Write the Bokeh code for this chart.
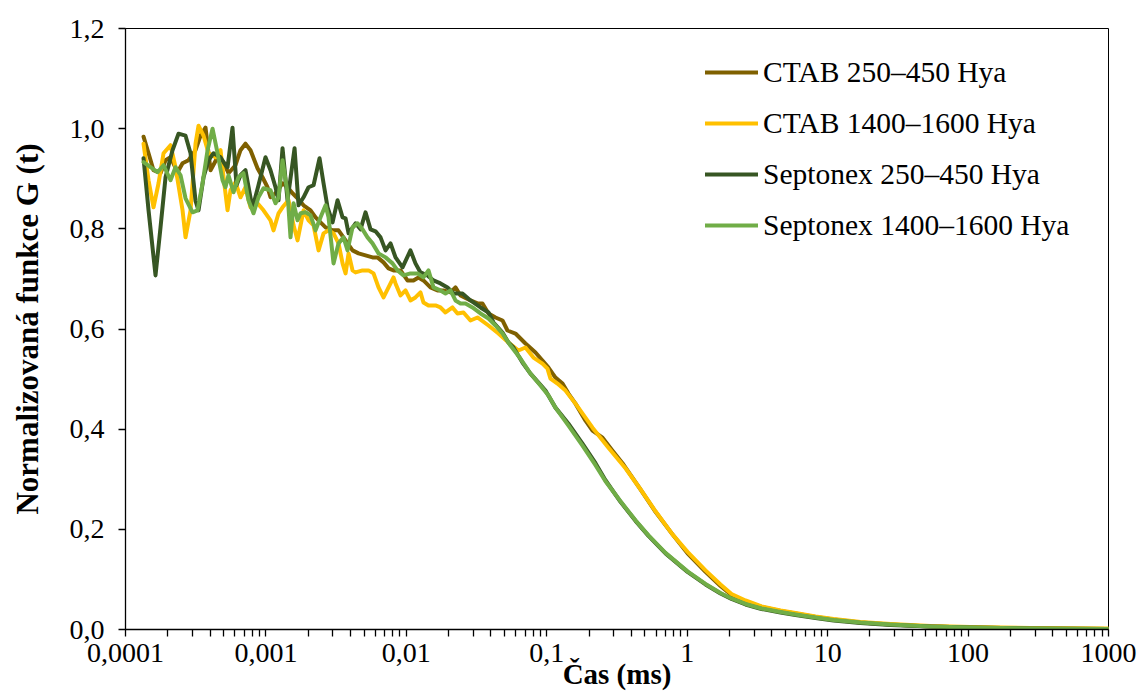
from bokeh.plotting import figure
from bokeh.models import Range1d, FixedTicker, CustomJSTickFormatter
from bokeh.embed import file_html
from bokeh.resources import INLINE

# ---- data: (time in ms, normalized G(t)) ----
ctab_250_450 = [
    (1.344e-4, 0.984), (1.459e-4, 0.951), (1.583e-4, 0.917), (1.776e-4, 0.911), (1.928e-4, 0.937),
    (2.092e-4, 0.943), (2.347e-4, 0.913), (2.548e-4, 0.931), (2.811e-4, 0.937), (3.153e-4, 0.957),
    (3.423e-4, 0.986), (3.715e-4, 1.002), (4.033e-4, 0.917), (4.523e-4, 0.943), (4.991e-4, 0.933),
    (5.413e-4, 0.911), (6.072e-4, 0.927), (6.59e-4, 0.957), (7.15e-4, 0.970), (7.766e-4, 0.957),
    (8.709e-4, 0.921), (9.453e-4, 0.903), (1.0266e-3, 0.883), (1.078e-3, 0.863), (1.170e-3, 0.871),
    (1.313e-3, 0.891), (1.4253e-3, 0.883), (1.5474e-3, 0.871), (1.6791e-3, 0.861), (1.853e-3, 0.847),
    (2.0786e-3, 0.837), (2.2563e-3, 0.823), (2.4488e-3, 0.813), (2.6586e-3, 0.803), (2.982e-3, 0.797),
    (3.2886e-3, 0.797), (3.6908e-3, 0.777), (4.1373e-3, 0.757), (4.5652e-3, 0.751), (5.1204e-3, 0.747),
    (5.7428e-3, 0.743), (6.2328e-3, 0.743), (6.8776e-3, 0.733), (7.4649e-3, 0.721), (8.1034e-3, 0.717),
    (9.0886e-3, 0.717), (1.0182e-2, 0.697), (1.1236e-2, 0.697), (1.2197e-2, 0.703), (1.3235e-2, 0.697),
    (1.4845e-2, 0.683), (1.6653e-2, 0.677), (1.8374e-2, 0.677), (2.0615e-2, 0.673), (2.2374e-2, 0.683),
    (2.4283e-2, 0.667), (2.8614e-2, 0.657), (3.2086e-2, 0.651), (3.4833e-2, 0.651), (3.8454e-2, 0.631),
    (4.3131e-2, 0.623), (4.8377e-2, 0.617), (5.2476e-2, 0.597), (5.9834e-2, 0.591), (7.0487e-2, 0.571),
    (8.3067e-2, 0.553), (9.3166e-2, 0.537), (0.10283, 0.523), (0.1153, 0.503), (0.1294, 0.491),
    (0.1427, 0.471), (0.1601, 0.451), (0.1887, 0.417), (0.2116, 0.397), (0.2494, 0.383),
    (0.2938, 0.357), (0.3459, 0.332), (0.4647, 0.280), (0.5943, 0.235), (0.7855, 0.190),
    (1.005, 0.152), (1.35, 0.115), (1.726, 0.087), (2.068, 0.069), (2.602, 0.056),
    (3.382, 0.045), (4.617, 0.037), (5.905, 0.032), (8.197, 0.025), (11.02, 0.020),
    (17.15, 0.014), (28.05, 0.010), (54.04, 0.006), (104.0, 0.004), (278.2, 0.002), (1000.0, 0.001),
]

ctab_1400_1600 = [
    (1.344e-4, 0.970), (1.459e-4, 0.897), (1.583e-4, 0.843), (1.719e-4, 0.891), (1.866e-4, 0.951),
    (2.092e-4, 0.967), (2.271e-4, 0.923), (2.548e-4, 0.837), (2.676e-4, 0.783), (2.905e-4, 0.837),
    (3.153e-4, 0.970), (3.312e-4, 1.006), (3.595e-4, 0.986), (3.903e-4, 0.951), (4.377e-4, 0.943),
    (4.751e-4, 0.957), (4.991e-4, 0.903), (5.33e-4, 0.837), (5.594e-4, 0.877), (6.072e-4, 0.893),
    (6.59e-4, 0.863), (7.15e-4, 0.883), (7.766e-4, 0.843), (8.709e-4, 0.851), (9.61e-4, 0.837),
    (1.078e-3, 0.817), (1.1327e-3, 0.797), (1.2296e-3, 0.831), (1.313e-3, 0.843), (1.4489e-3, 0.857),
    (1.5729e-3, 0.807), (1.6791e-3, 0.777), (1.853e-3, 0.837), (2.0117e-3, 0.817), (2.1833e-3, 0.807),
    (2.3703e-3, 0.757), (2.572e-3, 0.791), (2.7912e-3, 0.797), (3.0297e-3, 0.791), (3.2886e-3, 0.771),
    (3.5135e-3, 0.731), (3.6908e-3, 0.711), (3.877e-3, 0.751), (4.1373e-3, 0.717), (4.3485e-3, 0.713),
    (4.8745e-3, 0.717), (5.3775e-3, 0.717), (5.8373e-3, 0.711), (6.3357e-3, 0.683), (6.8776e-3, 0.663),
    (7.4649e-3, 0.683), (8.1034e-3, 0.703), (8.3718e-3, 0.691), (9.0886e-3, 0.667), (9.865e-3, 0.677),
    (1.0695e-2, 0.657), (1.161e-2, 0.663), (1.2603e-2, 0.673), (1.3235e-2, 0.653), (1.4371e-2, 0.647),
    (1.6121e-2, 0.647), (1.7499e-2, 0.643), (1.8994e-2, 0.633), (2.1306e-2, 0.643), (2.3124e-2, 0.631),
    (2.5518e-2, 0.633), (2.8614e-2, 0.617), (3.2086e-2, 0.623), (3.8454e-2, 0.607), (4.528e-2, 0.591),
    (5.3344e-2, 0.573), (6.2838e-2, 0.557), (7.0487e-2, 0.563), (8.0375e-2, 0.543), (9.3166e-2, 0.531),
    (0.10115, 0.521), (0.10626, 0.501), (0.11917, 0.491), (0.1359, 0.477), (0.1601, 0.451),
    (0.2116, 0.403), (0.2750, 0.363), (0.3635, 0.322), (0.4647, 0.280), (0.5943, 0.236),
    (0.7855, 0.190), (1.005, 0.155), (1.35, 0.118), (1.726, 0.090), (2.068, 0.071),
    (2.602, 0.058), (3.382, 0.046), (4.617, 0.038), (5.905, 0.033), (8.197, 0.026),
    (11.02, 0.021), (17.15, 0.015), (28.05, 0.011), (54.04, 0.007), (104.0, 0.005), (278.2, 0.003),
    (1000.0, 0.002),
]

septonex_250_450 = [
    (1.344e-4, 0.941), (1.459e-4, 0.837), (1.636e-4, 0.707), (1.776e-4, 0.803), (1.928e-4, 0.903),
    (2.162e-4, 0.957), (2.386e-4, 0.990), (2.676e-4, 0.986), (2.905e-4, 0.951), (3.153e-4, 0.856),
    (3.312e-4, 0.837), (3.595e-4, 0.903), (3.903e-4, 0.937), (4.236e-4, 0.951), (4.751e-4, 0.943),
    (5.15e-4, 0.927), (5.33e-4, 0.923), (5.78e-4, 1.002), (6.17e-4, 0.887), (6.59e-4, 0.907),
    (7.15e-4, 0.917), (8.02e-4, 0.841), (8.85e-4, 0.887), (9.93e-4, 0.943), (1.078e-3, 0.917),
    (1.170e-3, 0.883), (1.2296e-3, 0.857), (1.313e-3, 0.961), (1.4253e-3, 0.857), (1.599e-3, 0.961),
    (1.7074e-3, 0.847), (1.853e-3, 0.863), (2.0117e-3, 0.883), (2.1833e-3, 0.887), (2.409e-3, 0.941),
    (2.572e-3, 0.891), (2.747e-3, 0.843), (2.982e-3, 0.813), (3.2365e-3, 0.857), (3.5135e-3, 0.823),
    (3.6908e-3, 0.821), (3.877e-3, 0.791), (4.3485e-3, 0.811), (4.7174e-3, 0.799), (5.1204e-3, 0.833),
    (5.5574e-3, 0.799), (6.0323e-3, 0.795), (6.5475e-3, 0.783), (7.107e-3, 0.757), (7.7145e-3, 0.771),
    (8.3718e-3, 0.743), (9.392e-3, 0.723), (1.0695e-2, 0.757), (1.161e-2, 0.731), (1.2603e-2, 0.713),
    (1.4133e-2, 0.707), (1.560e-2, 0.697), (1.7499e-2, 0.691), (1.9628e-2, 0.683), (2.165e-2, 0.671),
    (2.5084e-2, 0.671), (2.8614e-2, 0.657), (3.3726e-2, 0.643), (3.8454e-2, 0.633), (4.1741e-2, 0.613),
    (4.8377e-2, 0.593), (5.3344e-2, 0.573), (5.7897e-2, 0.563), (6.711e-2, 0.533), (7.6512e-2, 0.511),
    (8.7243e-2, 0.493), (9.784e-2, 0.477), (0.1153, 0.443), (0.1427, 0.411), (0.1796, 0.371),
    (0.2223, 0.332), (0.2618, 0.298), (0.3349, 0.255), (0.4281, 0.217), (0.53, 0.187),
    (0.7003, 0.152), (1.005, 0.115), (1.35, 0.090), (1.726, 0.072), (2.068, 0.061),
    (2.602, 0.050), (3.382, 0.041), (4.617, 0.034), (5.905, 0.029), (8.197, 0.023),
    (11.02, 0.018), (17.15, 0.013), (28.05, 0.009), (54.04, 0.006), (104.0, 0.004), (278.2, 0.002),
    (1000.0, 0.001),
]

septonex_1400_1600 = [
    (1.344e-4, 0.933), (1.507e-4, 0.923), (1.691e-4, 0.913), (1.866e-4, 0.927), (2.092e-4, 0.897),
    (2.271e-4, 0.923), (2.466e-4, 0.907), (2.676e-4, 0.861), (3.002e-4, 0.833), (3.258e-4, 0.837),
    (3.537e-4, 0.891), (3.839e-4, 0.957), (4.167e-4, 1.000), (4.523e-4, 0.951), (4.91e-4, 0.897),
    (5.15e-4, 0.883), (5.413e-4, 0.907), (5.876e-4, 0.873), (6.378e-4, 0.903), (6.923e-4, 0.911),
    (7.514e-4, 0.857), (8.157e-4, 0.831), (8.85e-4, 0.863), (9.61e-4, 0.881), (1.078e-3, 0.877),
    (1.170e-3, 0.851), (1.2296e-3, 0.863), (1.313e-3, 0.937), (1.4253e-3, 0.871), (1.4967e-3, 0.783),
    (1.5729e-3, 0.851), (1.6791e-3, 0.817), (1.7636e-3, 0.831), (1.9151e-3, 0.833), (2.0786e-3, 0.827),
    (2.2563e-3, 0.797), (2.4488e-3, 0.823), (2.6586e-3, 0.847), (2.7912e-3, 0.823), (3.0297e-3, 0.731),
    (3.2886e-3, 0.771), (3.5695e-3, 0.783), (3.8116e-3, 0.757), (4.1373e-3, 0.803), (4.4909e-3, 0.811),
    (4.8745e-3, 0.799), (5.2907e-3, 0.783), (5.7428e-3, 0.771), (6.3357e-3, 0.751), (7.107e-3, 0.743),
    (7.9715e-3, 0.731), (8.6517e-3, 0.717), (9.547e-3, 0.707), (1.0695e-2, 0.711), (1.1997e-2, 0.711),
    (1.3235e-2, 0.703), (1.4371e-2, 0.717), (1.56e-2, 0.683), (1.7499e-2, 0.677), (1.8994e-2, 0.671),
    (2.0615e-2, 0.677), (2.2374e-2, 0.657), (2.4283e-2, 0.651), (2.6368e-2, 0.651), (2.9566e-2, 0.643),
    (3.3726e-2, 0.631), (3.8454e-2, 0.621), (4.3131e-2, 0.607), (4.8377e-2, 0.591), (5.5118e-2, 0.567),
    (6.4941e-2, 0.541), (7.6512e-2, 0.511), (9.0144e-2, 0.487), (0.10283, 0.467), (0.1153, 0.443),
    (0.1427, 0.407), (0.1796, 0.367), (0.2223, 0.328), (0.2618, 0.296), (0.3349, 0.256),
    (0.4281, 0.218), (0.53, 0.188), (0.7003, 0.153), (1.005, 0.116), (1.35, 0.091),
    (1.726, 0.073), (2.068, 0.062), (2.602, 0.051), (3.382, 0.042), (4.617, 0.035),
    (5.905, 0.030), (8.197, 0.024), (11.02, 0.019), (17.15, 0.014), (28.05, 0.010),
    (54.04, 0.006), (104.0, 0.004), (278.2, 0.002), (1000.0, 0.001),
]

series_names = ["CTAB 250–450 Hya", "CTAB 1400–1600 Hya", "Septonex 250–450 Hya", "Septonex 1400–1600 Hya"]
series_data = [ctab_250_450, ctab_1400_1600, septonex_250_450, septonex_1400_1600]
series_colors = ["#7F6000", "#FFC000", "#375623", "#70AD47"]

x_ticks = [1e-4, 1e-3, 1e-2, 1e-1, 1.0, 10.0, 100.0, 1000.0]
y_ticks = [0.0, 0.2, 0.4, 0.6, 0.8, 1.0, 1.2]
x_title = "Čas (ms)"
y_title = "Normalizovaná funkce G (t)"

FONT = "Liberation Serif"

p = figure(width=1139, height=695, x_axis_type="log",
           x_range=Range1d(1e-4, 1000), y_range=Range1d(0, 1.2),
           output_backend="svg", toolbar_location=None,
           min_border_left=125, min_border_right=31, min_border_top=28, min_border_bottom=66)
p.background_fill_color = "white"
p.border_fill_color = "white"
p.outline_line_color = "black"
p.outline_line_width = 1
p.grid.visible = False

for name, pts, col in zip(series_names, series_data, series_colors):
    xs = [a for a, b in pts]
    ys = [b for a, b in pts]
    p.line(xs, ys, line_color=col, line_width=4, line_join="round", line_cap="round",
           legend_label=name)

minor = [k * m for m in x_ticks[:-1] for k in range(2, 10)]
p.xaxis.ticker = FixedTicker(ticks=x_ticks, minor_ticks=minor)
p.xaxis.formatter = CustomJSTickFormatter(code="return String(tick).replace('.', ',');")
p.yaxis.ticker = FixedTicker(ticks=y_ticks)
p.yaxis.formatter = CustomJSTickFormatter(code="return tick.toFixed(1).replace('.', ',');")

for ax in (p.xaxis[0], p.yaxis[0]):
    ax.axis_line_color = "black"
    ax.axis_line_width = 1.3
    ax.major_tick_line_color = "black"
    ax.major_tick_line_width = 1.3
    ax.major_tick_in = 0
    ax.major_tick_out = 7
    ax.major_label_text_font = FONT
    ax.major_label_text_font_size = "28px"
    ax.major_label_text_color = "black"
    ax.axis_label_text_font = FONT
    ax.axis_label_text_font_style = "bold"
    ax.axis_label_text_color = "black"

p.xaxis.axis_label_text_font_size = "29px"
p.yaxis.axis_label_text_font_size = "31px"
p.yaxis.minor_tick_line_color = None
p.xaxis.minor_tick_line_color = "black"
p.xaxis.minor_tick_line_width = 1.3
p.xaxis.minor_tick_in = 0
p.xaxis.minor_tick_out = 7
p.xaxis.major_label_standoff = 7
p.yaxis.major_label_standoff = 14
p.yaxis.axis_label = y_title
p.yaxis.axis_label_standoff = 22
p.xaxis.axis_label = x_title
p.xaxis.axis_label_standoff = -7

lg = p.legend[0]
lg.location = (580, 379)
lg.border_line_color = None
lg.background_fill_alpha = 0
lg.padding = 0
lg.margin = 0
lg.spacing = 1
lg.glyph_width = 53
lg.glyph_height = 50
lg.label_height = 50
lg.label_standoff = 5
lg.label_text_font = FONT
lg.label_text_font_size = "29.5px"
lg.label_text_color = "black"

open("out.html", "w").write(file_html(p, INLINE))
